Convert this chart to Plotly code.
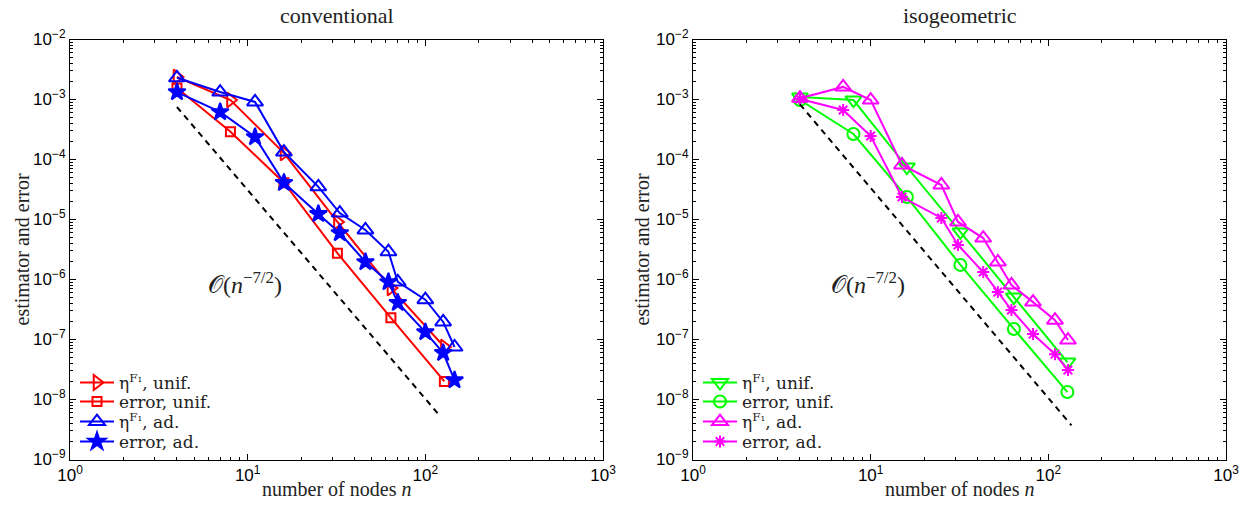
import plotly.graph_objects as go

# ---------------- data ----------------
# left panel: conventional
conv_unif_n = [4, 8, 16, 32, 64, 128]
conv_unif_eta = [2.37e-3, 9.8e-4, 1.28e-4, 9.1e-6, 7.2e-7, 7.5e-8]
conv_unif_err = [1.55e-3, 2.9e-4, 4.1e-5, 2.75e-6, 2.3e-7, 2.0e-8]
conv_ad_n = [4, 7, 11, 16, 25, 33, 46, 62, 70, 100, 126, 146]
conv_ad_eta = [2.3e-3, 1.33e-3, 9.1e-4, 1.33e-4, 3.5e-5, 1.28e-5, 6.7e-6,
               2.9e-6, 9.1e-7, 4.6e-7, 1.96e-7, 7.5e-8]
conv_ad_err = [1.33e-3, 6.2e-4, 2.37e-4, 4.1e-5, 1.24e-5, 5.96e-6, 1.96e-6,
               9.1e-7, 4.1e-7, 1.33e-7, 6.0e-8, 2.1e-8]
conv_ref_n = [4, 121]
conv_ref_v = [7.5e-4, 5.3e-9]

# right panel: isogeometric
iso_unif_n = [4, 8, 16, 32, 64, 128]
iso_unif_eta = [1.1e-3, 9.8e-4, 7.5e-5, 6.2e-6, 5.1e-7, 4.2e-8]
iso_unif_err = [9.8e-4, 2.66e-4, 2.37e-5, 1.75e-6, 1.5e-7, 1.33e-8]
iso_ad_n = [4, 7, 10, 15, 25, 31, 43, 52, 62, 82, 109, 129]
iso_ad_eta = [1.05e-3, 1.62e-3, 9.8e-4, 8.1e-5, 3.76e-5, 9.1e-6, 4.9e-6,
              1.96e-6, 8.1e-7, 4.2e-7, 2.1e-7, 9.8e-8]
iso_ad_err = [1.02e-3, 6.7e-4, 2.46e-4, 2.37e-5, 1.06e-5, 3.76e-6, 1.33e-6,
              6.2e-7, 3.1e-7, 1.23e-7, 5.7e-8, 3.1e-8]
iso_ref_n = [4, 135]
iso_ref_v = [8.3e-4, 3.7e-9]

x_tickvals = [1, 10, 100, 1000]
x_ticktext = ["10<sup>0</sup>", "10<sup>1</sup>", "10<sup>2</sup>", "10<sup>3</sup>"]
y_tickvals = [1e-9, 1e-8, 1e-7, 1e-6, 1e-5, 1e-4, 1e-3, 1e-2]
y_ticktext = ["10<sup>−9</sup>", "10<sup>−8</sup>", "10<sup>−7</sup>", "10<sup>−6</sup>",
              "10<sup>−5</sup>", "10<sup>−4</sup>", "10<sup>−3</sup>", "10<sup>−2</sup>"]

titles = ["conventional", "isogeometric"]
legend_labels = ["η<sup>F₁</sup>, unif.", "error, unif.", "η<sup>F₁</sup>, ad.", "error, ad."]
rate_label = "𝒪(<i>n</i><sup>−7/2</sup>)"
xlabel = "number of nodes <i>n</i>"
ylabel = "estimator and error"

# ---------------- layout geometry ----------------
W, H = 1246, 508


def px(x):
    return x / W


def py(y):
    return 1 - y / H


L1, R1 = px(70), px(603)
L2, R2 = px(693), px(1226)
B, T = py(459.5), py(39.5)
LEG_ROWS = [383, 402, 422, 442]   # pixel row centres of the legend entries

SERIF = "Liberation Serif"
LEGSERIF = "DejaVu Serif"
SANS = "Liberation Sans"
TXT = "#222222"

RED, BLUE, GREEN, MAG = "#ff0000", "#0000ff", "#00ff00", "#ff00ff"

fig = go.Figure()


def add(xs, ys, name, color, symbol, size, xa, ya, legend):
    marker = dict(symbol=symbol, size=size, color=color,
                  line=dict(color=color, width=2))
    fig.add_trace(go.Scatter(x=xs, y=ys, name=name, mode="lines+markers",
                             line=dict(color=color, width=2), marker=marker,
                             xaxis=xa, yaxis=ya, legend=legend))


DASH = "6px,5px"
# left
add(conv_unif_n, conv_unif_eta, legend_labels[0], RED, "triangle-right-open", 13, "x", "y", "legend")
add(conv_unif_n, conv_unif_err, legend_labels[1], RED, "square-open", 9, "x", "y", "legend2")
add(conv_ad_n, conv_ad_eta, legend_labels[2], BLUE, "triangle-up-open", 14, "x", "y", "legend3")
add(conv_ad_n, conv_ad_err, legend_labels[3], BLUE, "star", 13, "x", "y", "legend4")
fig.add_trace(go.Scatter(x=conv_ref_n, y=conv_ref_v, mode="lines", showlegend=False,
                         line=dict(color="black", width=2, dash=DASH), xaxis="x", yaxis="y"))
# right
add(iso_unif_n, iso_unif_eta, legend_labels[0], GREEN, "triangle-down-open", 14, "x2", "y2", "legend5")
add(iso_unif_n, iso_unif_err, legend_labels[1], GREEN, "circle-open", 12, "x2", "y2", "legend6")
add(iso_ad_n, iso_ad_eta, legend_labels[2], MAG, "triangle-up-open", 14, "x2", "y2", "legend7")
add(iso_ad_n, iso_ad_err, legend_labels[3], MAG, "asterisk-open", 10, "x2", "y2", "legend8")
fig.add_trace(go.Scatter(x=iso_ref_n, y=iso_ref_v, mode="lines", showlegend=False,
                         line=dict(color="black", width=2, dash=DASH), xaxis="x2", yaxis="y2"))

minor_x = [a * m for a in (1, 10, 100) for m in range(2, 10)]
minor_y = [10.0 ** e * m for e in range(-9, -2) for m in range(2, 10)]

axcommon = dict(type="log", showline=True, linecolor="black", linewidth=1, mirror="allticks",
                ticks="inside", ticklen=6, tickcolor="black", showgrid=False, zeroline=False,
                automargin=False,
                tickfont=dict(family=SANS, size=17, color="black"))

xcommon = dict(axcommon, range=[0, 3], tickmode="array", tickvals=x_tickvals, ticktext=x_ticktext,
               minor=dict(tickmode="array", tickvals=minor_x, ticks="inside", ticklen=3,
                          tickcolor="black", showgrid=False))
ycommon = dict(axcommon, range=[-9, -2], tickmode="array", tickvals=y_tickvals, ticktext=y_ticktext,
               minor=dict(tickmode="array", tickvals=minor_y, ticks="inside", ticklen=3,
                          tickcolor="black", showgrid=False))

legcommon = dict(font=dict(family=LEGSERIF, size=17, color=TXT), bgcolor="rgba(255,255,255,0)",
                 borderwidth=0, xanchor="left", yanchor="middle", tracegroupgap=0,
                 itemwidth=34)

legends = {}
names = ["legend", "legend2", "legend3", "legend4", "legend5", "legend6", "legend7", "legend8"]
for i, name in enumerate(names):
    left = L1 if i < 4 else L2
    legends[name] = dict(legcommon, x=left + 5 / W, y=py(LEG_ROWS[i % 4]))

fig.update_layout(
    width=W, height=H, margin=dict(l=0, r=0, t=0, b=0, autoexpand=False),
    paper_bgcolor="white", plot_bgcolor="white",
    xaxis=dict(xcommon, domain=[L1, R1], anchor="y"),
    yaxis=dict(ycommon, domain=[B, T], anchor="x"),
    xaxis2=dict(xcommon, domain=[L2, R2], anchor="y2"),
    yaxis2=dict(ycommon, domain=[B, T], anchor="x2"),
    **legends,
)

annots = []
for (l, r), t in zip([(L1, R1), (L2, R2)], titles):
    cx = (l + r) / 2
    annots.append(dict(text=t, x=cx, y=py(16), xref="paper", yref="paper", showarrow=False,
                       xanchor="center", yanchor="middle",
                       font=dict(family=SERIF, size=22, color=TXT)))
    annots.append(dict(text=xlabel, x=cx, y=py(489), xref="paper", yref="paper", showarrow=False,
                       xanchor="center", yanchor="middle",
                       font=dict(family=SERIF, size=20, color=TXT)))
for x0 in (px(21), px(641)):
    annots.append(dict(text=ylabel, x=x0, y=(B + T) / 2, xref="paper", yref="paper", showarrow=False,
                       xanchor="center", yanchor="middle", textangle=-90,
                       font=dict(family=SERIF, size=20, color=TXT)))
for xa, ya in [("x", "y"), ("x2", "y2")]:
    annots.append(dict(text=rate_label, x=0.985, y=-6.06, xref=xa, yref=ya, showarrow=False,
                       xanchor="center", yanchor="middle",
                       font=dict(family=SERIF, size=24, color=TXT)))
fig.update_layout(annotations=annots)

fig.write_html("out.html")
